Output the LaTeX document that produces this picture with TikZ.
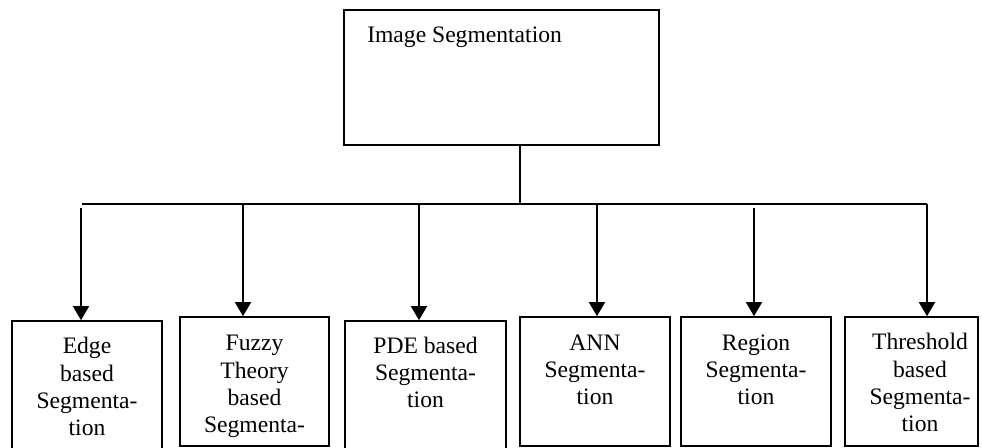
\documentclass[tikz,border=0pt]{standalone}
\usepackage{fontspec}
\setmainfont{Liberation Serif}
\usetikzlibrary{arrows.meta,fit}
\begin{document}
\begin{tikzpicture}[x=0.75pt,y=-0.75pt,
  box/.style={draw, line width=1.2pt, inner sep=0pt, rectangle},
  lbl/.style={align=center, font=\fontsize{17.7}{20.6}\selectfont, inner sep=0pt},
  conn/.style={line width=1.2pt},
  arr/.style={conn, -{Triangle[width=12pt,length=10.5pt]}}]
\useasboundingbox (0,0) rectangle (982,448);
\clip (0,0) rectangle (982,448);
% boxes
\node[box, fit={(344,10) (659,145)}] (top) {};
\node[box, fit={(12,321) (162,462)}] (b1) {};
\node[box, fit={(180,317) (329,446)}] (b2) {};
\node[box, fit={(345,321) (506,462)}] (b3) {};
\node[box, fit={(520,317) (670,446)}] (b4) {};
\node[box, fit={(681,317) (831,446)}] (b5) {};
\node[box, fit={(845,317) (978,446)}] (b6) {};
% labels (anchor = baseline of last line)
\node[lbl, anchor=base west] (tt) at (367,43) {Image Segmentation};
\node[lbl, anchor=base] (t1) at (87,436) {Edge\\based\\Segmenta-\\tion};
\node[lbl, anchor=base] (t2) at (254.5,433) {Fuzzy\\Theory\\based\\Segmenta-};
\node[lbl, anchor=base] (t3) at (425.5,408) {PDE based\\Segmenta-\\tion};
\node[lbl, anchor=base] (t4) at (595,405) {ANN\\Segmenta-\\tion};
\node[lbl, anchor=base] (t5) at (756,405) {Region\\Segmenta-\\tion};
\node[lbl, anchor=base] (t6) at (920,432) {Threshold\\based\\Segmenta-\\tion};
% connectors
\coordinate (j) at (520,204);
\coordinate (L) at (82,204);
\coordinate (R) at (927,204);
\draw[conn] (top.south -| j) -- (j);
\draw[conn] (L) -- (R);
\draw[arr] (81,208) -- (81,208 |- b1.north);
\draw[arr] (243,204) -- (243,204 |- b2.north);
\draw[arr] (419,204) -- (419,204 |- b3.north);
\draw[arr] (597,204) -- (597,204 |- b4.north);
\draw[arr] (754,208) -- (754,208 |- b5.north);
\draw[arr] (R) -- (R |- b6.north);
\end{tikzpicture}
\end{document}
